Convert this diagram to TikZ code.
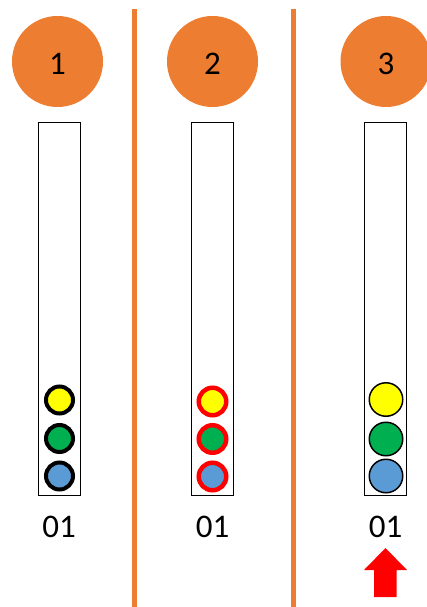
\documentclass[tikz,border=0pt]{standalone}
\usepackage{fontspec}
\setmainfont{Carlito}
\usetikzlibrary{positioning}

\definecolor{c_orange}{HTML}{ED7D31}
\definecolor{c_yellow}{HTML}{FFFF00}
\definecolor{c_green}{HTML}{00B050}
\definecolor{c_blue}{HTML}{5B9BD5}
\definecolor{c_red}{HTML}{FF0000}

\begin{document}
\begin{tikzpicture}[
    x=1pt, y=-1pt,
    num_circle/.style={circle, fill=c_orange, draw=none, minimum size=91pt, inner sep=0pt, font=\fontsize{32}{36}\selectfont},
    tube_box/.style={rectangle, draw=black, line width=1.8pt, minimum width=42pt, minimum height=373pt, inner sep=0pt},
    ball_thick/.style={circle, draw=black, line width=4pt, minimum size=27pt, inner sep=0pt},
    ball_red/.style={circle, draw=c_red, line width=4.5pt, minimum size=27.5pt, inner sep=0pt},
    ball_thin/.style={circle, draw=black, line width=1.5pt, minimum size=33.5pt, inner sep=0pt},
    label_txt/.style={inner sep=0pt, anchor=base, font=\fontsize{33}{36}\selectfont},
    sep_line/.style={draw=c_orange, line width=5pt}
  ]
    \useasboundingbox (0,0) rectangle (427,607);

    % separators
    \coordinate (S1a) at (134.5,9);
    \coordinate (S1b) at (134.5,607);
    \coordinate (S2a) at (293.5,9);
    \coordinate (S2b) at (293.5,607);
    \draw[sep_line] (S1a) -- (S1b);
    \draw[sep_line] (S2a) -- (S2b);

    % numbered circles
    \node[num_circle] (C1) at (57.5,61.5) {};
    \node[num_circle] (C2) at (212.5,61.5) {};
    \node[num_circle] (C3) at (386,61.5) {};
    \node[label_txt] at (57.5,75) {1};
    \node[label_txt] at (212.5,75) {2};
    \node[label_txt] at (386,75) {3};

    % tubes
    \node[tube_box] (T1) at (59.5,309) {};
    \node[tube_box] (T2) at (212.5,309) {};
    \node[tube_box] (T3) at (385.5,309) {};

    % balls
    \node[ball_thick, fill=c_yellow] (Y1) at (59.5,400) {};
    \node[ball_thick, fill=c_green] (G1) at (59.5,438.5) {};
    \node[ball_thick, fill=c_blue] (B1) at (59.5,476) {};

    \node[ball_red, fill=c_yellow] (Y2) at (212.5,401.5) {};
    \node[ball_red, fill=c_green] (G2) at (212.5,439) {};
    \node[ball_red, fill=c_blue] (B2) at (212.5,476.5) {};

    \node[ball_thin, fill=c_yellow] (Y3) at (386,399.5) {};
    \node[ball_thin, fill=c_green] (G3) at (386,439) {};
    \node[ball_thin, fill=c_blue] (B3) at (386,476) {};

    % labels
    \node[label_txt] (L1) at (59,537) {01};
    \node[label_txt] (L2) at (212.5,537) {01};
    \node[label_txt] (L3) at (385.5,537) {01};

    % arrow
    \fill[c_red] (374,597) -- (374,570) -- (364,570) -- (385.5,548)
      -- (407,570) -- (396.5,570) -- (396.5,597) -- cycle;
  \end{tikzpicture}
\end{document}
